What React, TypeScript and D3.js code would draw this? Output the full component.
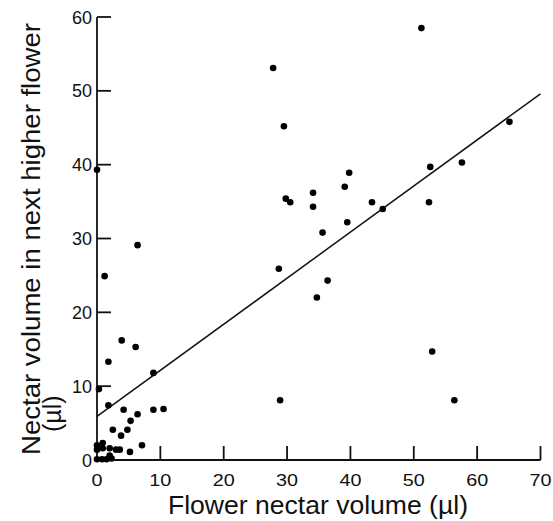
import React from "react";
import * as d3 from "d3";

const xValues = [
  0, 0.8, 1.5, 2.3, 2.0, 0, 0, 0.9, 0.9, 2.0, 3.0, 3.6, 5.2, 7.1, 2.5, 3.8, 4.8, 5.3, 6.4, 4.2,
  8.9, 10.5, 1.8, 0.3, 8.9, 1.8, 6.1, 3.9, 1.2, 6.4, 0,
  27.8, 51.2, 29.5, 39.8, 65.1, 52.6, 57.6, 34.1, 39.1, 29.8, 30.5, 34.1, 43.4, 45.1, 52.4, 39.5,
  35.6, 28.7, 36.4, 34.7, 52.9, 28.9, 56.4,
];
const yValues = [
  0.1, 0.1, 0.1, 0.2, 0.6, 1.4, 2.0, 2.3, 1.6, 1.6, 1.4, 1.4, 1.1, 2.0, 4.1, 3.3, 4.1, 5.3, 6.2, 6.8,
  6.8, 6.9, 7.4, 9.6, 11.8, 13.3, 15.3, 16.2, 24.9, 29.1, 39.3,
  53.1, 58.5, 45.2, 38.9, 45.8, 39.7, 40.3, 36.2, 37.0, 35.4, 34.9, 34.3, 34.9, 34.0, 34.9, 32.2,
  30.8, 25.9, 24.3, 22.0, 14.7, 8.1, 8.1,
];
const fitX = [0, 70];
const fitY = [5.9, 49.6];
const xTicks = [0, 10, 20, 30, 40, 50, 60, 70];
const yTicks = [0, 10, 20, 30, 40, 50, 60];
const xTitle = "Flower nectar volume (µl)";
const yTitleLine1 = "Nectar volume in next higher flower";
const yTitleLine2 = "(µl)";

export default function App() {
  const W = 553;
  const H = 521;
  const x = d3.scaleLinear().domain([0, 70]).range([97, 540.5]);
  const y = d3.scaleLinear().domain([0, 60]).range([460, 17]);
  const line = d3
    .line<number>()
    .x((d) => x(fitX[d]))
    .y((d) => y(fitY[d]));
  const font = "Arial, 'Liberation Sans', Helvetica, sans-serif";
  const tickLen = 14;

  return (
    <svg
      width={W}
      height={H}
      style={{ position: "absolute", left: 0, top: 0, background: "#fff" }}
      fontFamily={font}
    >
      <line x1={x(0)} x2={x(70)} y1={y(0)} y2={y(0)} stroke="#111" strokeWidth={1.8} />
      <line x1={x(0)} x2={x(0)} y1={y(0)} y2={y(60)} stroke="#111" strokeWidth={1.8} />
      {xTicks.filter((t) => t > 0).map((t) => (
        <line key={"xt" + t} x1={x(t)} x2={x(t)} y1={y(0)} y2={y(0) - tickLen} stroke="#111" strokeWidth={1.8} />
      ))}
      {yTicks.filter((t) => t > 0).map((t) => (
        <line key={"yt" + t} x1={x(0)} x2={x(0) + tickLen} y1={y(t)} y2={y(t)} stroke="#111" strokeWidth={1.8} />
      ))}
      {xTicks.map((t) => (
        <text
          key={"xl" + t}
          x={x(t)}
          y={486}
          textAnchor="middle"
          fontSize={17}
          fill="#111"
          textLength={t === 0 ? 11 : 22}
          lengthAdjust="spacingAndGlyphs"
        >
          {t}
        </text>
      ))}
      {yTicks.map((t) => (
        <text key={"yl" + t} x={92} y={y(t) + 6.5} textAnchor="end" fontSize={18} fill="#111">
          {t}
        </text>
      ))}
      <path d={line([0, 1]) || ""} fill="none" stroke="#111" strokeWidth={1.5} />
      {xValues.map((v, i) => (
        <circle key={"p" + i} cx={x(v)} cy={y(yValues[i])} r={3.3} fill="#000" />
      ))}
      <text
        x={318}
        y={514}
        textAnchor="middle"
        fontSize={25}
        fill="#111"
        textLength={300}
        lengthAdjust="spacingAndGlyphs"
      >
        {xTitle}
      </text>
      <text
        transform={`translate(39.5,455) rotate(-90)`}
        x={0}
        y={0}
        fontSize={25}
        fill="#111"
        textLength={432}
        lengthAdjust="spacingAndGlyphs"
      >
        {yTitleLine1}
      </text>
      <text transform={`translate(61,432) rotate(-90)`} x={0} y={0} fontSize={25} fill="#111">
        {yTitleLine2}
      </text>
    </svg>
  );
}
